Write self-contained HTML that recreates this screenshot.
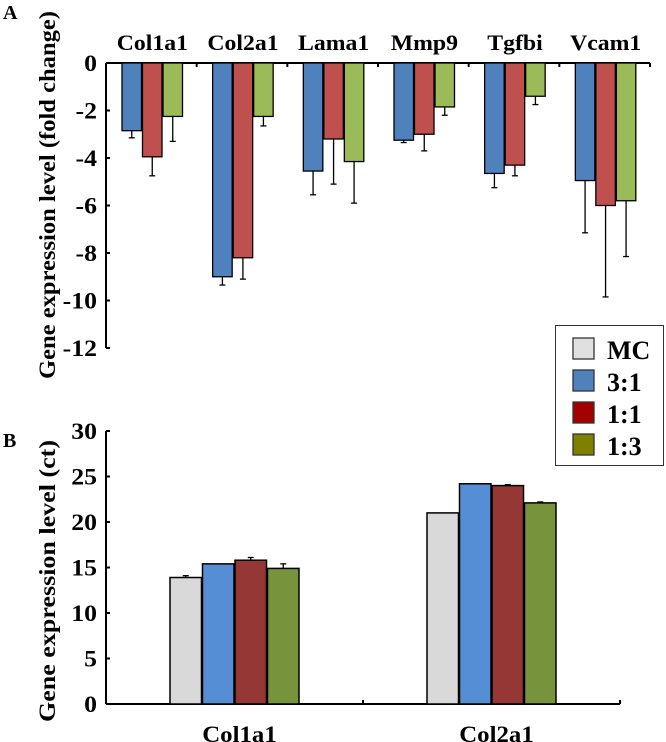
<!DOCTYPE html>
<html><head><meta charset="utf-8"><style>
body{margin:0;background:#fff;}
svg{display:block;font-family:"Liberation Serif",serif;font-weight:bold;}
</style></head><body>
<svg id="c" width="666" height="742">
<text x="3" y="19" font-size="20">A</text>
<text x="3" y="447" font-size="20">B</text>
<text transform="translate(55,195) rotate(-90)" text-anchor="middle" font-size="23" textLength="368" lengthAdjust="spacingAndGlyphs">Gene expression level (fold change)</text>
<text transform="translate(55,581) rotate(-90)" text-anchor="middle" font-size="23" textLength="282" lengthAdjust="spacingAndGlyphs">Gene expression level (ct)</text>
<g id="a"></g>
<g id="b"></g>
<g id="lg"></g>
</svg>
<script>
const aCats=["Col1a1","Col2a1","Lama1","Mmp9","Tgfbi","Vcam1"];
const aBlue=[-2.85,-9.0,-4.55,-3.25,-4.65,-4.95];
const aRed=[-3.95,-8.2,-3.2,-3.0,-4.3,-6.0];
const aGreen=[-2.25,-2.25,-4.15,-1.85,-1.4,-5.8];
const aBlueErr=[0.3,0.35,1.0,0.1,0.6,2.2];
const aRedErr=[0.8,0.9,1.9,0.7,0.45,3.85];
const aGreenErr=[1.05,0.4,1.75,0.35,0.35,2.35];
const aTicks=[0,-2,-4,-6,-8,-10,-12];
const bCats=["Col1a1","Col2a1"];
const bMC=[13.9,21.0];
const b31=[15.4,24.2];
const b11=[15.8,24.0];
const b13=[14.9,22.1];
const bMCErr=[0.2,0];
const b31Err=[0,0];
const b11Err=[0.3,0.1];
const b13Err=[0.5,0.1];
const bTicks=[0,5,10,15,20,25,30];
const legendLabels=["MC","3:1","1:1","1:3"];
const NS="http://www.w3.org/2000/svg";
function mk(p,t,at){const e=document.createElementNS(NS,t);for(const k in at)e.setAttribute(k,at[k]);p.appendChild(e);return e;}
function tick(p,x,y,txt){const t=mk(p,'text',{transform:`translate(${x},${y}) scale(1.12,1)`,'text-anchor':'end','font-size':23});t.textContent=txt;return t;}
// Panel A
const A=document.getElementById('a');
const ay=v=>63+(-v)*(285/12);
const ax0=106,ax1=650,aw=(ax1-ax0)/6;
let e=mk(A,'line',{x1:ax0,y1:ay(0),x2:ax1,y2:ay(0),stroke:'#000','stroke-width':2});


e=mk(A,'line',{x1:ax0,y1:ay(0),x2:ax0,y2:ay(-12),stroke:'#000','stroke-width':2});


aTicks.forEach(t=>{
 mk(A,'line',{x1:ax0,y1:ay(t),x2:ax0+4,y2:ay(t),stroke:'#000','stroke-width':2});
 const tx=tick(A,97,ay(t)+8,t);
 
 
});
for(let i=1;i<=6;i++)mk(A,'line',{x1:ax0+aw*i,y1:ay(0),x2:ax0+aw*i,y2:ay(0)+4,stroke:'#000','stroke-width':2});
const aSer=[[aBlue,aBlueErr,'#4f81bd'],[aRed,aRedErr,'#c0504d'],[aGreen,aGreenErr,'#9bbb59']];
aCats.forEach((c,i)=>{
 const tx=mk(A,'text',{transform:`translate(${ax0+aw*(i+0.5)+1},50) scale(1.08,1)`,'text-anchor':'middle','font-size':22});tx.textContent=c;
 
 
 aSer.forEach((s,j)=>{
  const x=ax0+aw*i+16+j*20.5,w=19.5,v=s[0][i];
  const r=mk(A,'rect',{x:x,y:ay(0),width:w,height:ay(v)-ay(0),fill:s[2],stroke:'#000','stroke-width':1.3});
  
  
  const cx=x+w/2,ye=ay(v-s[1][i]);
  mk(A,'line',{x1:cx,y1:ay(v),x2:cx,y2:ye,stroke:'#000','stroke-width':1.3});
  mk(A,'line',{x1:cx-3,y1:ye,x2:cx+3,y2:ye,stroke:'#000','stroke-width':1.3});
 });
});
// Panel B
const B=document.getElementById('b');
const by=v=>704-v*(273/30);
const bx0=106,bx1=620,bw=(bx1-bx0)/2;
e=mk(B,'line',{x1:bx0,y1:by(0),x2:bx1,y2:by(0),stroke:'#000','stroke-width':2});


e=mk(B,'line',{x1:bx0,y1:by(0),x2:bx0,y2:by(30),stroke:'#000','stroke-width':2});


mk(B,'line',{x1:bx0+bw,y1:by(0),x2:bx0+bw,y2:by(0)-4,stroke:'#000','stroke-width':2});
mk(B,'line',{x1:bx1,y1:by(0),x2:bx1,y2:by(0)-4,stroke:'#000','stroke-width':2});
bTicks.forEach(t=>{
 mk(B,'line',{x1:bx0,y1:by(t),x2:bx0+4,y2:by(t),stroke:'#000','stroke-width':2});
 const tx=tick(B,97,by(t)+8,t);
 
 
});
const bSer=[[bMC,bMCErr,'#d9d9d9'],[b31,b31Err,'#558ed5'],[b11,b11Err,'#953735'],[b13,b13Err,'#77933c']];
bCats.forEach((c,i)=>{
 const tx=mk(B,'text',{transform:`translate(${bx0+bw*(i+0.5)+5},742) scale(1.08,1)`,'text-anchor':'middle','font-size':23});tx.textContent=c;
 
 
 bSer.forEach((s,j)=>{
  const x=bx0+bw*i+64+j*32.5,w=31.5,v=s[0][i];
  const r=mk(B,'rect',{x:x,y:by(v),width:w,height:by(0)-by(v),fill:s[2],stroke:'#000','stroke-width':1.5});
  
  
  if(s[1][i]>0){const cx=x+w/2,ye=by(v+s[1][i]);
   mk(B,'line',{x1:cx,y1:by(v),x2:cx,y2:ye,stroke:'#000','stroke-width':1.3});
   mk(B,'line',{x1:cx-3,y1:ye,x2:cx+3,y2:ye,stroke:'#000','stroke-width':1.3});}
 });
});
// Legend
const L=document.getElementById('lg');
mk(L,'rect',{x:555.5,y:325.5,width:108,height:140,fill:'#fff',stroke:'#333','stroke-width':1});
const lc=['#e0e0e0','#4f81bd','#a50000','#808000'];
legendLabels.forEach((t,i)=>{
 const y=338+i*32;
 const s=mk(L,'rect',{x:573,y:y,width:21,height:21,fill:lc[i],stroke:'#333','stroke-width':1.3});
 
 
 const tx=mk(L,'text',{x:607,y:y+21,'font-size':26});tx.textContent=t;
 
 
});
</script>
</body></html>
